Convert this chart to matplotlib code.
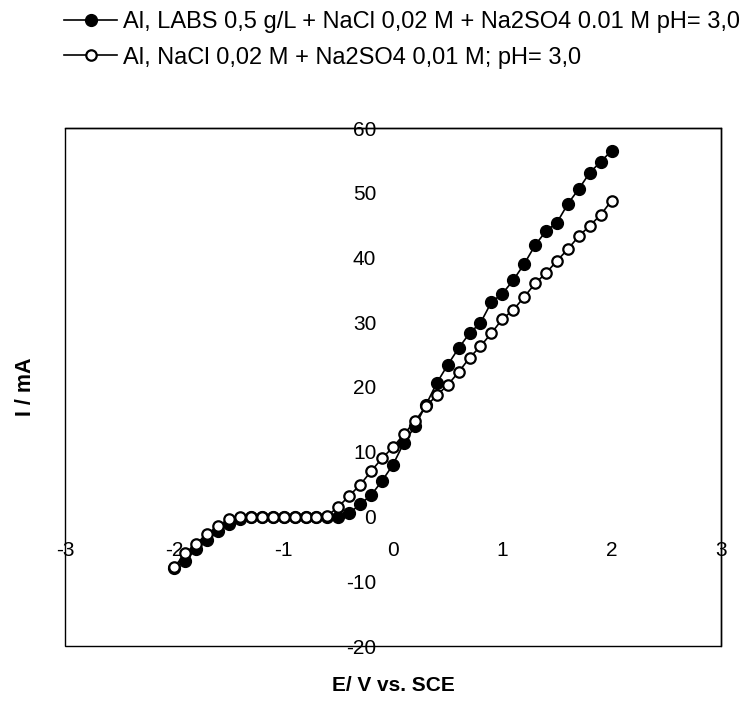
import matplotlib
matplotlib.use("Agg")
import matplotlib.pyplot as plt
from matplotlib.patches import Rectangle

plt.rcParams["font.family"] = ["Liberation Sans", "DejaVu Sans"]
plt.rcParams["axes.unicode_minus"] = False

# potential E / V vs. SCE, 0.1 V steps
potential = [round(-2.0 + 0.1 * i, 1) for i in range(41)]

# I / mA, Al in LABS 0.5 g/L + NaCl 0.02 M + Na2SO4 0.01 M, pH 3.0
current_labs = [
    -8.0, -6.8, -5.0, -3.6, -2.3, -1.1, -0.4, -0.1, 0.0, 0.0,
    0.0, 0.0, 0.0, 0.0, 0.0, 0.0, 0.5, 1.9, 3.3, 5.5,
    8.0, 11.4, 13.9, 17.2, 20.6, 23.4, 26.0, 28.3, 29.9, 33.1,
    34.4, 36.5, 39.0, 41.9, 44.1, 45.4, 48.3, 50.6, 53.1, 54.8,
    56.5,
]

# I / mA, Al in NaCl 0.02 M + Na2SO4 0.01 M, pH 3.0
current_blank = [
    -7.8, -5.7, -4.2, -2.7, -1.5, -0.4, 0.0, 0.0, 0.0, 0.0,
    0.0, 0.0, 0.0, 0.0, 0.1, 1.5, 3.2, 4.9, 7.0, 9.0,
    10.7, 12.7, 14.7, 17.0, 18.7, 20.3, 22.3, 24.5, 26.3, 28.3,
    30.5, 31.9, 33.9, 36.0, 37.6, 39.5, 41.3, 43.3, 44.9, 46.6,
    48.8,
]

label_labs = "Al, LABS 0,5 g/L + NaCl 0,02 M + Na2SO4 0.01 M pH= 3,0"
label_blank = "Al, NaCl 0,02 M + Na2SO4 0,01 M; pH= 3,0"

x_ticks = [-3, -2, -1, 0, 1, 2, 3]
y_ticks = [-20, -10, 0, 10, 20, 30, 40, 50, 60]

W, H = 751, 701
fig = plt.figure(figsize=(W / 100, H / 100), dpi=100)
ax = fig.add_axes([65 / W, (H - 646) / H, (721 - 65) / W, (646 - 128) / H])

ax.plot(potential, current_labs, color="black", lw=1.2, marker="o",
        ms=8.5, mfc="black", mec="black", label=label_labs)
ax.plot(potential, current_blank, color="black", lw=1.2, marker="o",
        ms=7.5, mfc="white", mec="black", mew=1.6, label=label_blank)

ax.set_xlim(-3, 3)
ax.set_ylim(-20, 60)
ax.set_xticks(x_ticks)
ax.set_yticks(y_ticks)

# axes cross at the origin, axis lines not drawn
ax.spines["left"].set_position(("data", 0))
ax.spines["bottom"].set_position(("data", 0))
ax.spines["left"].set_color("none")
ax.spines["bottom"].set_color("none")
ax.spines["top"].set_linewidth(1.0)
ax.spines["right"].set_linewidth(1.0)
ax.add_patch(Rectangle((0, 0), 1, 1, transform=ax.transAxes, fill=False,
                       lw=1.0, ec="black", clip_on=False, zorder=3))
ax.tick_params(axis="both", length=0, labelsize=15)
ax.tick_params(axis="y", pad=12)
ax.tick_params(axis="x", pad=18)

ax.set_xlabel("E/ V vs. SCE", fontsize=15, fontweight="bold")
ax.xaxis.set_label_coords(0.5, -0.058)
ax.set_ylabel("I / mA", fontsize=15.5, fontweight="bold", va="center")
ax.yaxis.set_label_coords(-0.06, 0.5)

fig.legend(loc="upper left", bbox_to_anchor=(64 / W, 1 - 11 / H), frameon=False,
           fontsize=17, handlelength=2.25, handletextpad=0.25, labelspacing=0.58,
           borderaxespad=0, borderpad=0)

fig.savefig("out.png", dpi=100)
